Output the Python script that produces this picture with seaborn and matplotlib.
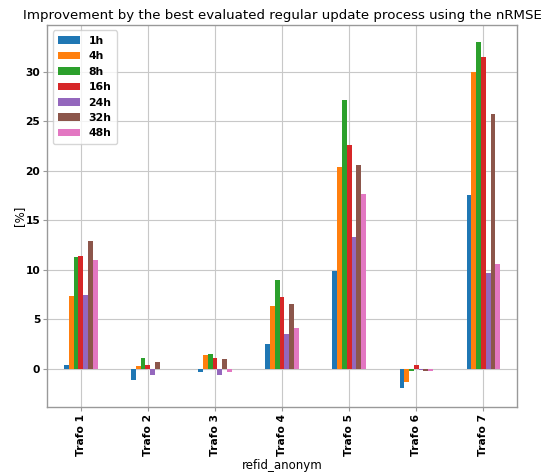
import pandas as pd
import seaborn as sns
import matplotlib.pyplot as plt

# Improvement in % per transformer and update interval
trafos = ['Trafo 1', 'Trafo 2', 'Trafo 3', 'Trafo 4', 'Trafo 5', 'Trafo 6', 'Trafo 7']
intervals = ['1h', '4h', '8h', '16h', '24h', '32h', '48h']

imp_1h = [0.4, -1.15, -0.37, 2.5, 9.9, -1.9, 17.6]
imp_4h = [7.4, 0.25, 1.38, 6.3, 20.4, -1.3, 30.05]
imp_8h = [11.3, 1.08, 1.48, 9.0, 27.2, -0.27, 33.0]
imp_16h = [11.45, 0.4, 1.1, 7.3, 22.6, 0.4, 31.5]
imp_24h = [7.47, -0.67, -0.6, 3.5, 13.3, -0.1, 9.65]
imp_32h = [12.9, 0.7, 0.95, 6.5, 20.55, -0.2, 25.8]
imp_48h = [11.0, -0.07, -0.3, 4.1, 17.7, -0.2, 10.58]

values = [imp_1h, imp_4h, imp_8h, imp_16h, imp_24h, imp_32h, imp_48h]
rows = []
for iv, vals in zip(intervals, values):
    for t, v in zip(trafos, vals):
        rows.append({'refid_anonym': t, 'interval': iv, 'value': v})
df = pd.DataFrame(rows)

sns.set_style("whitegrid")
plt.rcParams['text.color'] = 'black'
plt.rcParams['axes.labelcolor'] = 'black'
plt.rcParams['xtick.color'] = 'black'
plt.rcParams['ytick.color'] = 'black'

fig = plt.figure(figsize=(5.43, 4.72), dpi=100)
ax = fig.add_axes([0.087, 0.138, 0.865, 0.809])

sns.barplot(data=df, x='refid_anonym', y='value', hue='interval',
            order=trafos, hue_order=intervals, palette='tab10',
            width=0.5, linewidth=0, saturation=1, ax=ax)

ax.set_ylim(-3.85, 34.75)
ax.set_xlim(-0.5, 6.5)
ax.set_title('Improvement by the best evaluated regular update process using the nRMSE',
             fontsize=9.6, pad=4)
ax.set_ylabel('[%]', fontsize=8.5, labelpad=0)
ax.set_xlabel('refid_anonym', fontsize=8.5, labelpad=2)
ax.grid(True, color='#c8c8c8', linewidth=0.8)
ax.set_axisbelow(True)
for s in ax.spines.values():
    s.set_color('#999999')
    s.set_linewidth(1)

plt.setp(ax.get_xticklabels(), rotation=90, fontweight='bold', fontsize=7.7)
plt.setp(ax.get_yticklabels(), fontweight='bold', fontsize=7.7)
ax.tick_params(axis='both', length=3, color='#999999', width=0.8,
               left=True, bottom=True, pad=2)

leg = ax.legend(loc='upper left', prop={'weight': 'bold', 'size': 7.8},
                handlelength=2.0, handleheight=0.7, labelspacing=0.5, borderpad=0.5)
leg.set_title(None)

fig.savefig('out.png', dpi=100)
